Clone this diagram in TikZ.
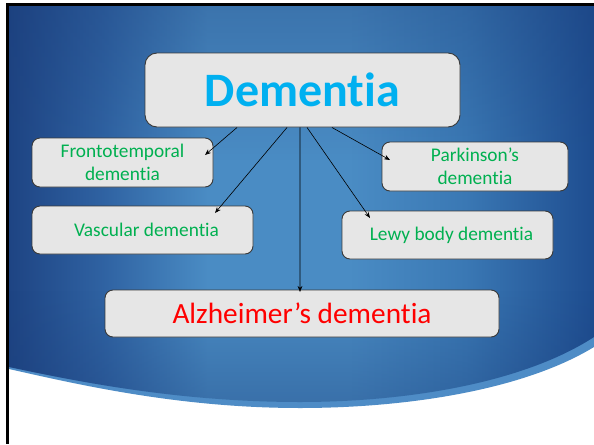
\documentclass[tikz,border=0pt]{standalone}
\usepackage{fontspec}
\setmainfont{Carlito}[Ligatures={NoCommon,NoContextual}]
\usetikzlibrary{arrows.meta,fadings}
\definecolor{bgdark}{HTML}{1E4483}
\definecolor{bgmidl}{HTML}{2F62A2}
\definecolor{bglight}{HTML}{4A8CC4}
\definecolor{bgmidr}{HTML}{3A78B4}
\definecolor{bgdarkr}{HTML}{1E4D90}
\definecolor{topdark}{HTML}{1A3C78}
\definecolor{bandblue}{HTML}{4E8CC6}
\definecolor{boxfill}{HTML}{E6E6E6}
\definecolor{boxline}{HTML}{3A3A3A}
\definecolor{demcyan}{HTML}{00B0F0}
\definecolor{subgreen}{HTML}{00B050}
\definecolor{alzred}{HTML}{FF0000}
\pgfdeclarehorizontalshading{slidebg}{100bp}{color(0bp)=(bgdark); color(25bp)=(bgdark); color(33bp)=(bgmidl); color(42bp)=(bglight); color(54bp)=(bglight); color(64bp)=(bgmidr); color(75bp)=(bgdarkr); color(100bp)=(bgdarkr)}
\begin{document}
\begin{tikzpicture}[x=0.75pt,y=-0.75pt,
  box/.style={draw=boxline, line width=0.7pt, fill=boxfill, rounded corners=6pt, inner sep=0pt, align=center},
  subtext/.style={text=subgreen, font=\fontsize{14.5}{17.3}\selectfont},
  conn/.style={-{Stealth[length=4.5pt,width=3.5pt]}, line width=0.45pt, black}]
\useasboundingbox (0,0) rectangle (594,444);
\fill[white] (0,0) rectangle (594,444);
% light band under the blue area
\fill[bandblue] (9,300) -- (594,300) -- (594,347) .. controls (520,392) and (400,408) .. (300,408) .. controls (180,408) and (80,385) .. (9,369) -- cycle;
% main blue area
\shade[shading=slidebg] (9,6) -- (594,6) -- (594,337) .. controls (520,385) and (400,402) .. (300,402) .. controls (180,402) and (80,382) .. (9,367) -- cycle;
\fill[topdark, path fading=south, fill opacity=0.3] (9,6) rectangle (594,160);
\begin{scope}
\clip (9,6) -- (594,6) -- (594,337) .. controls (520,385) and (400,402) .. (300,402) .. controls (180,402) and (80,382) .. (9,367) -- cycle;
\fill[topdark, path fading=north, fill opacity=0.35] (9,290) rectangle (594,404);
\end{scope}
% black frame lines
\fill[black] (6,3) rectangle (594,6);
\fill[black] (6,3) rectangle (9,444);
% boxes
\node[box, rounded corners=9pt, minimum width=236.25pt, minimum height=55.5pt, text=demcyan, font=\fontsize{36}{40}\selectfont\bfseries] (dem) at (302.5,90) {Dementia};
\node[box, subtext, minimum width=135.75pt, minimum height=36.75pt] (fronto) at (122.5,162.5) {Frontotemporal\\dementia};
\node[box, subtext, minimum width=165.75pt, minimum height=36pt] (vasc) at (142.5,230) {\hspace*{6pt}Vascular dementia};
\node[box, subtext, minimum width=139.5pt, minimum height=36.75pt] (park) at (475,166.5) {Parkinson’s\\dementia};
\node[box, subtext, minimum width=158.25pt, minimum height=36pt] (lewy) at (447.5,235) {\hspace*{6pt}Lewy body dementia};
\node[box, minimum width=295.5pt, minimum height=35.25pt, text=alzred, font=\fontsize{22}{26}\selectfont] (alz) at (302,313.5) {Alzheimer’s dementia};
% arrow ends
\coordinate (eF) at (205,155);
\coordinate (eV) at (215,213);
\coordinate (eA) at (300,292);
\coordinate (eL) at (370,218);
\coordinate (eP) at (390,160);
% connectors
\draw[conn] ([xshift=-49.1pt]dem.south) -- (eF);
\draw[conn] ([xshift=-11.6pt]dem.south) -- (eV);
\draw[conn] ([xshift=-1.9pt]dem.south) -- (eA);
\draw[conn] ([xshift=3.4pt]dem.south) -- (eL);
\draw[conn] ([xshift=22.1pt]dem.south) -- (eP);
\end{tikzpicture}
\end{document}
